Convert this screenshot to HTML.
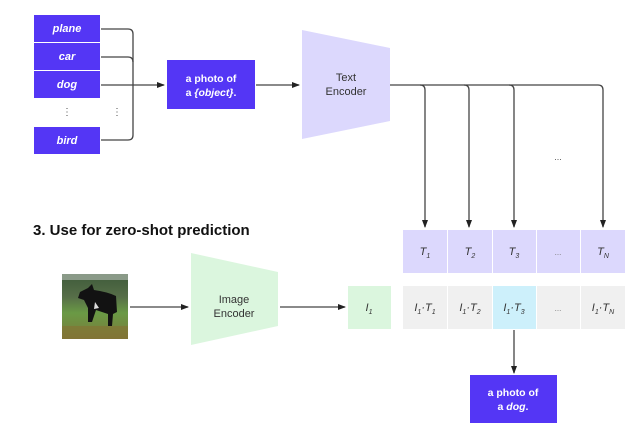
<!DOCTYPE html>
<html><head><style>
body{margin:0;width:638px;height:441px;background:#fff;overflow:hidden;font-family:"Liberation Sans",sans-serif}
svg{display:block}
</style></head><body>
<svg width="638" height="441" viewBox="0 0 638 441" xmlns="http://www.w3.org/2000/svg">
<defs>
<marker id="a" markerWidth="8" markerHeight="8" refX="7" refY="4" orient="auto" markerUnits="userSpaceOnUse"><path d="M0,1 L8,4 L0,7z" fill="#222"/></marker>
<linearGradient id="g" x1="0" y1="0" x2="0" y2="1"><stop offset="0" stop-color="#3e5a3a"/><stop offset="0.35" stop-color="#566e48"/><stop offset="0.6" stop-color="#6a9a45"/><stop offset="1" stop-color="#7a7a3a"/></linearGradient>
</defs>
<g font-weight="bold" font-style="italic" font-size="11" fill="#fff" text-anchor="middle">
<rect x="34" y="15" width="66" height="27" fill="#5436f5"/><text x="67" y="32">plane</text>
<rect x="34" y="43" width="66" height="27" fill="#5436f5"/><text x="67" y="60">car</text>
<rect x="34" y="71" width="66" height="27" fill="#5436f5"/><text x="67" y="88">dog</text>
<rect x="34" y="127" width="66" height="27" fill="#5436f5"/><text x="67" y="144">bird</text>
</g>
<g fill="#555" font-size="10" text-anchor="middle"><text x="67" y="115">⋮</text><text x="117" y="115">⋮</text></g>
<g fill="none" stroke="#444" stroke-width="1.3">
<path d="M101,29 H128 Q133,29 133,34 V135 Q133,140 128,140 H101"/>
<path d="M101,57 H128 Q133,57 133,62"/>
<path d="M101,85 H164" marker-end="url(#a)"/>
<path d="M256,85 H299" marker-end="url(#a)"/>
<path d="M390,85 H598 Q603,85 603,90 V227" marker-end="url(#a)"/>
<path d="M420,85 Q425,85 425,90 V227" marker-end="url(#a)"/>
<path d="M464,85 Q469,85 469,90 V227" marker-end="url(#a)"/>
<path d="M509,85 Q514,85 514,90 V227" marker-end="url(#a)"/>
<path d="M130,307 H188" marker-end="url(#a)"/>
<path d="M280,307 H345" marker-end="url(#a)"/>
<path d="M514,330 V373" marker-end="url(#a)"/>
</g>
<rect x="167" y="60" width="88" height="49" fill="#5436f5"/>
<text x="211" y="82" font-size="10.5" font-weight="bold" fill="#fff" text-anchor="middle">a photo of</text>
<text x="211" y="96" font-size="10.5" font-weight="bold" fill="#fff" text-anchor="middle">a <tspan font-style="italic">{object}</tspan>.</text>
<polygon points="302,30 390,48 390,121 302,139" fill="#dcd8fd"/>
<text x="346" y="81" font-size="11" fill="#333" text-anchor="middle">Text</text>
<text x="346" y="95" font-size="11" fill="#333" text-anchor="middle">Encoder</text>
<text x="558" y="160" font-size="9" fill="#555" text-anchor="middle">...</text>
<text x="33" y="235" font-size="15" font-weight="bold" fill="#111">3. Use for zero-shot prediction</text>
<rect x="62" y="274" width="66" height="65" fill="url(#g)"/>
<rect x="62" y="274" width="66" height="6" fill="#8a9a88"/>
<path d="M80,292 L88,288 L92,284 L94,290 Q108,292 116,296 L117,312 L113,314 L112,326 L108,326 L108,314 L96,310 L92,322 L88,322 L88,308 L84,300 L78,298z" fill="#121212"/>
<path d="M95,302 l4,6 l-5,1z" fill="#ddd"/>
<rect x="62" y="326" width="66" height="13" fill="#8a6e30" opacity="0.5"/>
<polygon points="191,253 278,272 278,326 191,345" fill="#dbf6de"/>
<text x="234" y="303" font-size="11" fill="#333" text-anchor="middle">Image</text>
<text x="234" y="317" font-size="11" fill="#333" text-anchor="middle">Encoder</text>
<rect x="348" y="286" width="43" height="43" fill="#dbf6de"/>
<text x="369" y="311" font-size="11" font-style="italic" fill="#333" text-anchor="middle">I<tspan font-size="7" dy="3">1</tspan></text>
<g fill="#dcd8fd"><rect x="403" y="230" width="44" height="43"/><rect x="448" y="230" width="44" height="43"/><rect x="493" y="230" width="43" height="43"/><rect x="537" y="230" width="43" height="43"/><rect x="581" y="230" width="44" height="43"/></g>
<g fill="#f0f0f0"><rect x="403" y="286" width="44" height="43"/><rect x="448" y="286" width="44" height="43"/><rect x="537" y="286" width="43" height="43"/><rect x="581" y="286" width="44" height="43"/></g>
<rect x="493" y="286" width="43" height="43" fill="#cdf0fb"/>
<g font-size="11" font-style="italic" fill="#333" text-anchor="middle">
<text x="425" y="255">T<tspan font-size="7" dy="3">1</tspan></text>
<text x="470" y="255">T<tspan font-size="7" dy="3">2</tspan></text>
<text x="514" y="255">T<tspan font-size="7" dy="3">3</tspan></text>
<text x="603" y="255">T<tspan font-size="7" dy="3">N</tspan></text>
<text x="425" y="311">I<tspan font-size="7" dy="3">1</tspan><tspan dy="-3">·T</tspan><tspan font-size="7" dy="3">1</tspan></text>
<text x="470" y="311">I<tspan font-size="7" dy="3">1</tspan><tspan dy="-3">·T</tspan><tspan font-size="7" dy="3">2</tspan></text>
<text x="514" y="311">I<tspan font-size="7" dy="3">1</tspan><tspan dy="-3">·T</tspan><tspan font-size="7" dy="3">3</tspan></text>
<text x="603" y="311">I<tspan font-size="7" dy="3">1</tspan><tspan dy="-3">·T</tspan><tspan font-size="7" dy="3">N</tspan></text>
</g>
<text x="558" y="255" font-size="8" fill="#777" text-anchor="middle">...</text>
<text x="558" y="311" font-size="8" fill="#777" text-anchor="middle">...</text>
<rect x="470" y="375" width="87" height="48" fill="#5436f5"/>
<text x="513" y="396" font-size="10.5" font-weight="bold" fill="#fff" text-anchor="middle">a photo of</text>
<text x="513" y="410" font-size="10.5" font-weight="bold" fill="#fff" text-anchor="middle">a <tspan font-style="italic">dog</tspan>.</text>
</svg>
</body></html>
